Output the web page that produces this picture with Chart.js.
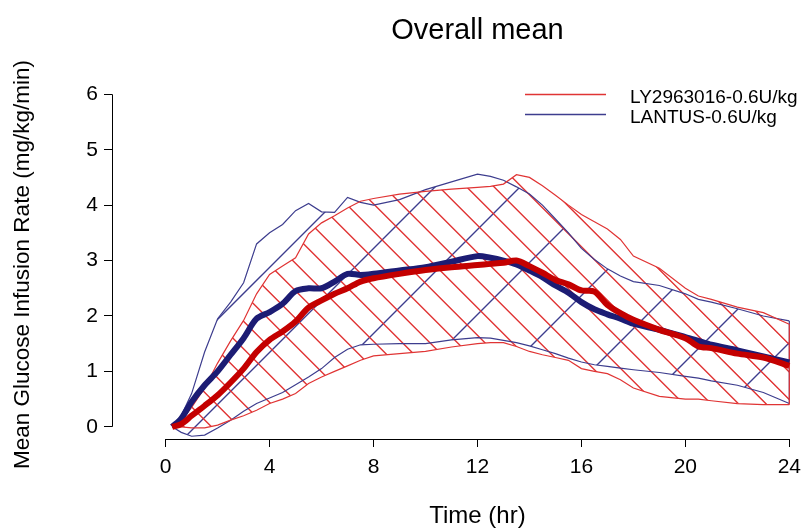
<!DOCTYPE html>
<html>
<head>
<meta charset="utf-8">
<script src="https://cdn.jsdelivr.net/npm/chart.js@4.4.1/dist/chart.umd.min.js"></script>
<style>
  html, body { margin: 0; padding: 0; background: #fff; }
</style>
</head>
<body>
<canvas id="myChart" width="809" height="529"></canvas>
<script>
// time points (hr) shared by every series
const hours = [0.25, 0.6, 1, 1.5, 2, 2.5, 3, 3.5, 4, 4.5, 5, 5.5, 6, 6.5, 7, 7.5, 8, 9, 10, 11,
  12, 12.5, 13, 13.5, 14, 14.5, 15, 15.5, 16, 16.5, 17, 17.5, 18, 19, 20, 20.5, 21, 22, 23, 24];

// LY2963016 - mean and band
const lyMean = [0, 0.05, 0.2, 0.38, 0.57, 0.8, 1.05, 1.35, 1.57, 1.72, 1.9, 2.15, 2.28, 2.4, 2.5, 2.62, 2.68, 2.76, 2.83, 2.88,
  2.92, 2.94, 2.96, 3.0, 2.9, 2.78, 2.65, 2.57, 2.46, 2.44, 2.2, 2.05, 1.93, 1.75, 1.6, 1.45, 1.42, 1.32, 1.25, 1.1];
const lyUpper = [0, 0.1, 0.35, 0.7, 1.15, 1.55, 1.92, 2.4, 2.75, 2.9, 3.05, 3.48, 3.68, 3.81, 3.95, 4.07, 4.12, 4.2, 4.25, 4.29,
  4.32, 4.34, 4.38, 4.55, 4.5, 4.35, 4.18, 4.0, 3.83, 3.7, 3.57, 3.38, 3.08, 2.86, 2.5, 2.36, 2.3, 2.16, 2.06, 1.85];
const lyLower = [0, 0, -0.02, -0.02, 0.03, 0.12, 0.2, 0.3, 0.42, 0.5, 0.6, 0.78, 0.9, 1.0, 1.1, 1.2, 1.28, 1.32, 1.36, 1.44,
  1.5, 1.52, 1.52, 1.45, 1.36, 1.3, 1.25, 1.2, 1.05, 1.0, 0.96, 0.85, 0.7, 0.55, 0.5, 0.5, 0.47, 0.42, 0.4, 0.4];

// LANTUS - mean and band
const lantusMean = [0, 0.15, 0.45, 0.75, 1.0, 1.3, 1.6, 1.95, 2.07, 2.22, 2.45, 2.5, 2.5, 2.62, 2.76, 2.74, 2.76, 2.82, 2.88, 2.98,
  3.08, 3.05, 3.0, 2.93, 2.82, 2.7, 2.55, 2.42, 2.25, 2.12, 2.03, 1.95, 1.86, 1.75, 1.62, 1.55, 1.48, 1.38, 1.27, 1.16];
const lantusUpper = [0, 0.2, 0.6, 1.35, 1.95, 2.25, 2.6, 3.3, 3.5, 3.65, 3.9, 4.03, 3.88, 3.87, 4.14, 4.05, 4.0, 4.1, 4.28, 4.42,
  4.56, 4.52, 4.45, 4.33, 4.2, 4.0, 3.75, 3.5, 3.22, 3.02, 2.85, 2.72, 2.62, 2.55, 2.4, 2.3, 2.25, 2.13, 2.0, 1.91];
const lantusLower = [0, -0.1, -0.17, -0.15, -0.02, 0.12, 0.28, 0.42, 0.52, 0.62, 0.76, 0.9, 1.05, 1.25, 1.4, 1.48, 1.49, 1.5, 1.5, 1.57,
  1.61, 1.6, 1.56, 1.52, 1.46, 1.39, 1.32, 1.24, 1.17, 1.12, 1.09, 1.06, 1.03, 0.98, 0.91, 0.88, 0.83, 0.75, 0.62, 0.42];

const xTicks = [0, 4, 8, 12, 16, 20, 24];
const yTicks = [0, 1, 2, 3, 4, 5, 6];
const seriesNames = ['LY2963016-0.6U/kg', 'LANTUS-0.6U/kg'];

const RED = '#c40000';
const RED_THIN = '#e03434';
const BLUE = '#1c1c74';
const BLUE_THIN = '#3d3d8e';
const FONT = '"Liberation Sans", Arial, sans-serif';

function pts(arr) {
  return hours.map(function (h, i) { return { x: h, y: arr[i] }; });
}
function edge(up, lo) {
  var n = hours.length - 1;
  return [{ x: hours[n], y: up[n] }, { x: hours[n], y: lo[n] }];
}

// hatch a band (upper dataset + lower dataset) like R's polygon(density, angle)
function hatchBand(chart, upIdx, loIdx, color, step, rising, phase) {
  var ctx = chart.ctx;
  var up = chart.getDatasetMeta(upIdx).data;
  var lo = chart.getDatasetMeta(loIdx).data;
  var W = chart.width, H = chart.height;
  ctx.save();
  ctx.beginPath();
  ctx.moveTo(up[0].x, up[0].y);
  for (var i = 1; i < up.length; i++) ctx.lineTo(up[i].x, up[i].y);
  for (var j = lo.length - 1; j >= 0; j--) ctx.lineTo(lo[j].x, lo[j].y);
  ctx.closePath();
  ctx.clip();
  ctx.strokeStyle = color;
  ctx.lineWidth = 1.4;
  ctx.beginPath();
  for (var c = phase - W - H; c < W + H; c += step) {
    if (rising) { // x + y = c
      ctx.moveTo(c + H, -H);
      ctx.lineTo(c - 2 * H, 2 * H);
    } else {      // y - x = c
      ctx.moveTo(-W, c - W);
      ctx.lineTo(2 * W, c + 2 * W);
    }
  }
  ctx.stroke();
  ctx.restore();
}

var decor = {
  id: 'decor',
  beforeDatasetsDraw: function (chart) {
    hatchBand(chart, 4, 5, BLUE_THIN, 85, true, 5);
    hatchBand(chart, 2, 3, RED_THIN, 27.5, false, -151.7);
  },
  afterDraw: function (chart) {
    var ctx = chart.ctx;
    var xs = chart.scales.x, ys = chart.scales.y;
    var area = chart.chartArea;
    ctx.save();
    ctx.strokeStyle = '#000';
    ctx.lineWidth = 1;
    // R style axis lines, only over the tick range
    var ax = Math.round(area.left) + 0.5;
    ctx.beginPath();
    ctx.moveTo(ax, ys.getPixelForValue(yTicks[0]));
    ctx.lineTo(ax, ys.getPixelForValue(yTicks[yTicks.length - 1]));
    var ay = Math.round(area.bottom) + 0.5;
    ctx.moveTo(xs.getPixelForValue(xTicks[0]), ay);
    ctx.lineTo(xs.getPixelForValue(xTicks[xTicks.length - 1]), ay);
    ctx.stroke();

    var cx = (xs.getPixelForValue(0) + xs.getPixelForValue(24)) / 2;
    var cy = (ys.getPixelForValue(0) + ys.getPixelForValue(6)) / 2;
    ctx.fillStyle = '#000';
    ctx.textAlign = 'center';
    ctx.textBaseline = 'middle';
    ctx.font = '29px ' + FONT;
    ctx.fillText('Overall mean', cx, 31);
    ctx.font = '24px ' + FONT;
    ctx.fillText('Time (hr)', cx, 516);
    ctx.save();
    ctx.translate(23, cy + 4);
    ctx.rotate(-Math.PI / 2);
    ctx.font = '22.5px ' + FONT;
    ctx.fillText('Mean Glucose Infusion Rate (mg/kg/min)', 0, 0);
    ctx.restore();

    // legend
    var cols = [RED_THIN, BLUE_THIN];
    var ly = [94, 114];
    ctx.font = '19px ' + FONT;
    ctx.textAlign = 'left';
    for (var i = 0; i < seriesNames.length; i++) {
      ctx.strokeStyle = cols[i];
      ctx.lineWidth = 1.3;
      ctx.beginPath();
      ctx.moveTo(525, ly[i] + 0.5);
      ctx.lineTo(606, ly[i] + 0.5);
      ctx.stroke();
      ctx.fillText(seriesNames[i], 630, ly[i] + 4);
    }
    ctx.restore();
  }
};

var ctx = document.getElementById('myChart').getContext('2d');
var thin = { pointRadius: 0, borderWidth: 1.2, tension: 0, fill: false };

new Chart(ctx, {
  type: 'line',
  data: {
    datasets: [
      { data: pts(lyMean), borderColor: RED, borderWidth: 6, pointRadius: 0, tension: 0.3, fill: false, order: 0 },
      { data: pts(lantusMean), borderColor: BLUE, borderWidth: 6, pointRadius: 0, tension: 0.3, fill: false, order: 1 },
      Object.assign({}, thin, { data: pts(lyUpper), borderColor: RED_THIN, order: 2 }),
      Object.assign({}, thin, { data: pts(lyLower), borderColor: RED_THIN, order: 2 }),
      Object.assign({}, thin, { data: pts(lantusUpper), borderColor: BLUE_THIN, order: 3 }),
      Object.assign({}, thin, { data: pts(lantusLower), borderColor: BLUE_THIN, order: 3 }),
      Object.assign({}, thin, { data: edge(lyUpper, lyLower), borderColor: RED_THIN, order: 2 }),
      Object.assign({}, thin, { data: edge(lantusUpper, lantusLower), borderColor: BLUE_THIN, order: 3 })
    ]
  },
  options: {
    responsive: false,
    animation: false,
    layout: { padding: { top: 81, right: 0, left: 0, bottom: 0 } },
    plugins: {
      legend: { display: false },
      tooltip: { enabled: false },
      title: { display: false }
    },
    scales: {
      x: {
        type: 'linear',
        min: -2.064,
        max: 24.34,
        afterBuildTicks: function (s) { s.ticks = xTicks.map(function (v) { return { value: v }; }); },
        afterFit: function (s) { s.height = 90; },
        grid: { drawOnChartArea: false, drawTicks: true, tickLength: 8, color: '#000' },
        border: { display: false },
        ticks: { color: '#000', padding: 8, maxRotation: 0, autoSkip: false, font: { family: FONT, size: 21 } }
      },
      y: {
        min: -0.22,
        max: 6.24,
        afterBuildTicks: function (s) { s.ticks = yTicks.map(function (v) { return { value: v }; }); },
        afterFit: function (s) { s.width = 112; },
        grid: { drawOnChartArea: false, drawTicks: true, tickLength: 8, color: '#000' },
        border: { display: false },
        ticks: { color: '#000', padding: 6, autoSkip: false, font: { family: FONT, size: 21 } }
      }
    }
  },
  plugins: [decor]
});
</script>
</body>
</html>
